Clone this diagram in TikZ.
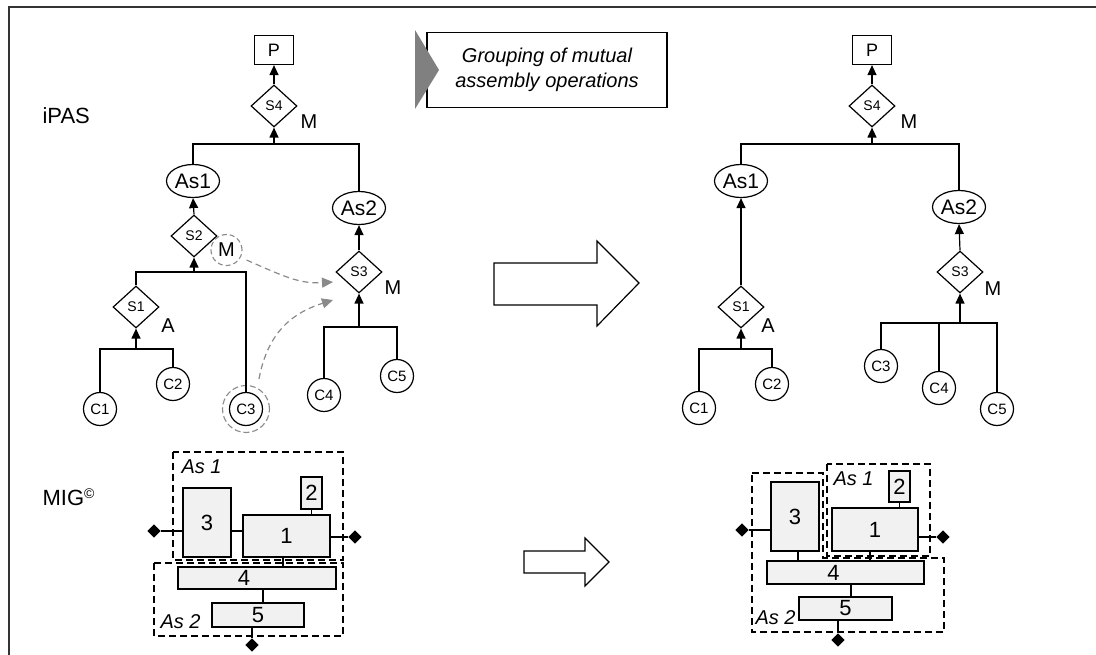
\documentclass[tikz,border=0pt]{standalone}
\usepackage{fontspec}
\setmainfont{Liberation Sans}
\usetikzlibrary{shapes.geometric,arrows.meta}
\definecolor{boxfill}{HTML}{F1F1F1}
\definecolor{framecol}{HTML}{333333}
\definecolor{hintgray}{HTML}{8A8A8A}
\begin{document}
\begin{tikzpicture}[x=1pt,y=-1pt,line width=1.2pt,
 prodbox/.style={draw,minimum width=39pt,minimum height=29pt,inner sep=0,font=\fontsize{18}{18}\selectfont},
 opdiam/.style={draw,diamond,minimum width=46pt,minimum height=42pt,inner sep=0,font=\fontsize{14}{14}\selectfont},
 asell/.style={draw,ellipse,minimum width=53pt,minimum height=33pt,inner sep=0,font=\fontsize{21}{21}\selectfont},
 comp/.style={draw,circle,minimum size=33pt,inner sep=0,font=\fontsize{15}{15}\selectfont},
 lab/.style={font=\fontsize{20}{20}\selectfont,inner sep=0},
 sect/.style={font=\fontsize{22}{22}\selectfont,inner sep=0,anchor=west},
 upar/.style={-{Triangle[length=10pt,width=9pt]}},
 hint/.style={hintgray,line width=1.2pt,dash pattern=on 6pt off 4pt},
 hintar/.style={hint,-{Triangle[length=11pt,width=10pt]}},
 part/.style={draw,fill=boxfill,inner sep=0,font=\fontsize{22}{22}\selectfont},
 grp/.style={draw,line width=1.1pt,dash pattern=on 7pt off 4pt},
 grplab/.style={font=\fontsize{20}{20}\selectfont\itshape,inner sep=0,anchor=west},
 port/.style={draw,fill=black,diamond,minimum size=12pt,inner sep=0},
 bigarrow/.style={draw,line width=1.2pt,fill=white}]
\useasboundingbox (0,0) rectangle (1096,655);
% frame
\draw[framecol,line width=2pt] (9,655) -- (9,7) -- (1096,7);
% section labels
\node[sect] (ipas) at (42,116) {iPAS};
\node[sect] (mig) at (42,497) {MIG\textsuperscript{\fontsize{14}{14}\selectfont\char"00A9}};
% grouping box
\node[draw,minimum width=240pt,minimum height=75pt,inner sep=0,align=center,
  font=\fontsize{20}{25}\selectfont\itshape] (grp) at (547,70) {Grouping of mutual\\assembly operations};
\fill[gray] (415,30) -- (439,70) -- (415,109) -- cycle;
% ---------- left tree ----------
\node[prodbox] (P) at (274,50) {P};
\node[opdiam] (S4) at (274,106) {S4};
\node[lab] (M4) at (309,122) {M};
\node[asell] (As1) at (193,181) {As1};
\node[asell] (As2) at (359,208) {As2};
\node[opdiam] (S2) at (194,236) {S2};
\node[lab] (M2) at (226.5,250) {M};
\node[draw,hintgray,circle,minimum size=31pt,dash pattern=on 5pt off 3pt,line width=1.1pt] (M2c) at (226.5,250) {};
\node[opdiam] (S1) at (136,307) {S1};
\node[lab] (A1) at (168,326) {A};
\node[opdiam] (S3) at (359,272) {S3};
\node[lab] (M3) at (393,288) {M};
\node[comp] (C1) at (100,409) {C1};
\node[comp] (C2) at (173,384) {C2};
\node[comp] (C3) at (246,409) {C3};
\node[draw,hintgray,circle,minimum size=47pt,dash pattern=on 6pt off 3pt,line width=1.1pt] (C3c) at (246,409) {};
\node[comp] (C4) at (324,395) {C4};
\node[comp] (C5) at (397,376) {C5};
\coordinate (b4) at (274,144);
\coordinate (b2) at (194,272);
\coordinate (b1) at (136,349);
\coordinate (b3) at (359,327);
\draw[upar] (S4.north) -- (P.south);
\draw (As1.north) |- (b4) -| (As2.north);
\draw[upar] (b4) -- (S4.south);
\draw[upar] (S2.north) -- (As1.south);
\draw (S1.north) |- (b2) -| (C3.north);
\draw[upar] (b2) -- (S2.south);
\draw (C1.north) |- (b1) -| (C2.north);
\draw[upar] (b1) -- (S1.south);
\draw[upar] (S3.north) -- (As2.south);
\draw (C4.north) |- (b3) -| (C5.north);
\draw[upar] (b3) -- (S3.south);
\coordinate (h1) at (333,282);
\coordinate (h2) at (333,300);
\draw[hintar] (M2c.east) ++(4,10) .. controls (285,277) and (300,284) .. (h1);
\draw[hintar] (C3c.north) ++(13,-6) .. controls (268,330) and (295,312) .. (h2);
% big arrow
\draw[bigarrow] (494,263) -- (597,263) -- (597,241) -- (639,283) -- (597,326) -- (597,305) -- (494,305) -- cycle;
% ---------- right tree ----------
\node[prodbox] (PR) at (872,50) {P};
\node[opdiam] (S4R) at (872,106) {S4};
\node[lab] (M4R) at (909,122) {M};
\node[asell] (As1R) at (741,181) {As1};
\node[asell] (As2R) at (959,207) {As2};
\node[opdiam] (S1R) at (741,307) {S1};
\node[lab] (A1R) at (768,326) {A};
\node[opdiam] (S3R) at (960,272) {S3};
\node[lab] (M3R) at (993,289) {M};
\node[comp] (C1R) at (699,408) {C1};
\node[comp] (C2R) at (772,384) {C2};
\node[comp] (C3R) at (881,366) {C3};
\node[comp] (C4R) at (939,388) {C4};
\node[comp] (C5R) at (997,409) {C5};
\coordinate (b4R) at (872,144);
\coordinate (b1R) at (741,349);
\coordinate (b3R) at (960,323);
\draw[upar] (S4R.north) -- (PR.south);
\draw (As1R.north) |- (b4R) -| (As2R.north);
\draw[upar] (b4R) -- (S4R.south);
\draw[upar] (S1R.north) -- (As1R.south);
\draw (C1R.north) |- (b1R) -| (C2R.north);
\draw[upar] (b1R) -- (S1R.south);
\draw[upar] (S3R.north) -- (As2R.south);
\draw (C3R.north) |- (b3R) -| (C5R.north);
\draw (C4R.north) -- (C4R.north |- b3R);
\draw[upar] (b3R) -- (S3R.south);
% ---------- left MIG ----------
\draw[grp] (173,452) rectangle (343,560);
\draw[grp] (154,563) rectangle (343,636);
\node[grplab] (as1L) at (181,467) {As 1};
\node[grplab] (as2L) at (160,622) {As 2};
\node[part,minimum width=48pt,minimum height=69pt] (p3) at (207,522.5) {3};
\node[part,minimum width=87pt,minimum height=42pt] (p1) at (286.5,536) {1};
\node[part,minimum width=21pt,minimum height=32pt] (p2) at (311.5,493) {2};
\node[part,minimum width=158pt,minimum height=22pt,label={[font=\fontsize{22}{22}\selectfont,xshift=-13pt]center:4}] (p4) at (257,578) {};
\node[part,minimum width=92pt,minimum height=24pt] (p5) at (258,615) {5};
\node[port] (dL) at (154,531) {};
\node[port] (dR) at (355,537) {};
\node[port] (dB) at (252,645) {};
\draw (dL) -- (dL -| p3.west);
\draw (p3.east |- dL) -- (p1.west |- dL);
\draw (p1.east |- dR) -- (dR);
\draw (p2.south) -- (p1.north -| p2.south);
\draw (p1.south -| 283,0) -- (p4.north -| 283,0);
\draw (p4.south -| 263,0) -- (p5.north -| 263,0);
\draw (p5.south -| dB) -- (dB);
% small arrow
\draw[bigarrow] (524,551) -- (585,551) -- (585,538) -- (609,562) -- (585,586) -- (585,573) -- (524,573) -- cycle;
% ---------- right MIG ----------
\draw[grp] (827,464) rectangle (930,556);
\draw[grp] (752,473) -- (823,473) -- (823,558) -- (944,558) -- (944,632) -- (752,632) -- cycle;
\node[grplab] (as1R) at (833,479) {As 1};
\node[grplab] (as2R) at (755,618) {As 2};
\node[part,minimum width=48pt,minimum height=69pt] (q3) at (795,516.5) {3};
\node[part,minimum width=86pt,minimum height=43pt] (q1) at (875,529.5) {1};
\node[part,minimum width=21pt,minimum height=31pt] (q2) at (899.5,486.5) {2};
\node[part,minimum width=157pt,minimum height=23pt,label={[font=\fontsize{22}{22}\selectfont,xshift=-12pt]center:4}] (q4) at (845.5,572.5) {};
\node[part,minimum width=93pt,minimum height=23pt] (q5) at (845.5,608.5) {5};
\node[port] (eL) at (742,530) {};
\node[port] (eR) at (943,537) {};
\node[port] (eB) at (838,640) {};
\draw (eL) -- (eL -| q3.west);
\draw (q1.east |- eR) -- (eR);
\draw (q2.south) -- (q1.north -| q2.south);
\draw (q3.south -| 798,0) -- (q4.north -| 798,0);
\draw (q1.south -| 870,0) -- (q4.north -| 870,0);
\draw (q4.south -| 851,0) -- (q5.north -| 851,0);
\draw (q5.south -| eB) -- (eB);
\end{tikzpicture}
\end{document}
